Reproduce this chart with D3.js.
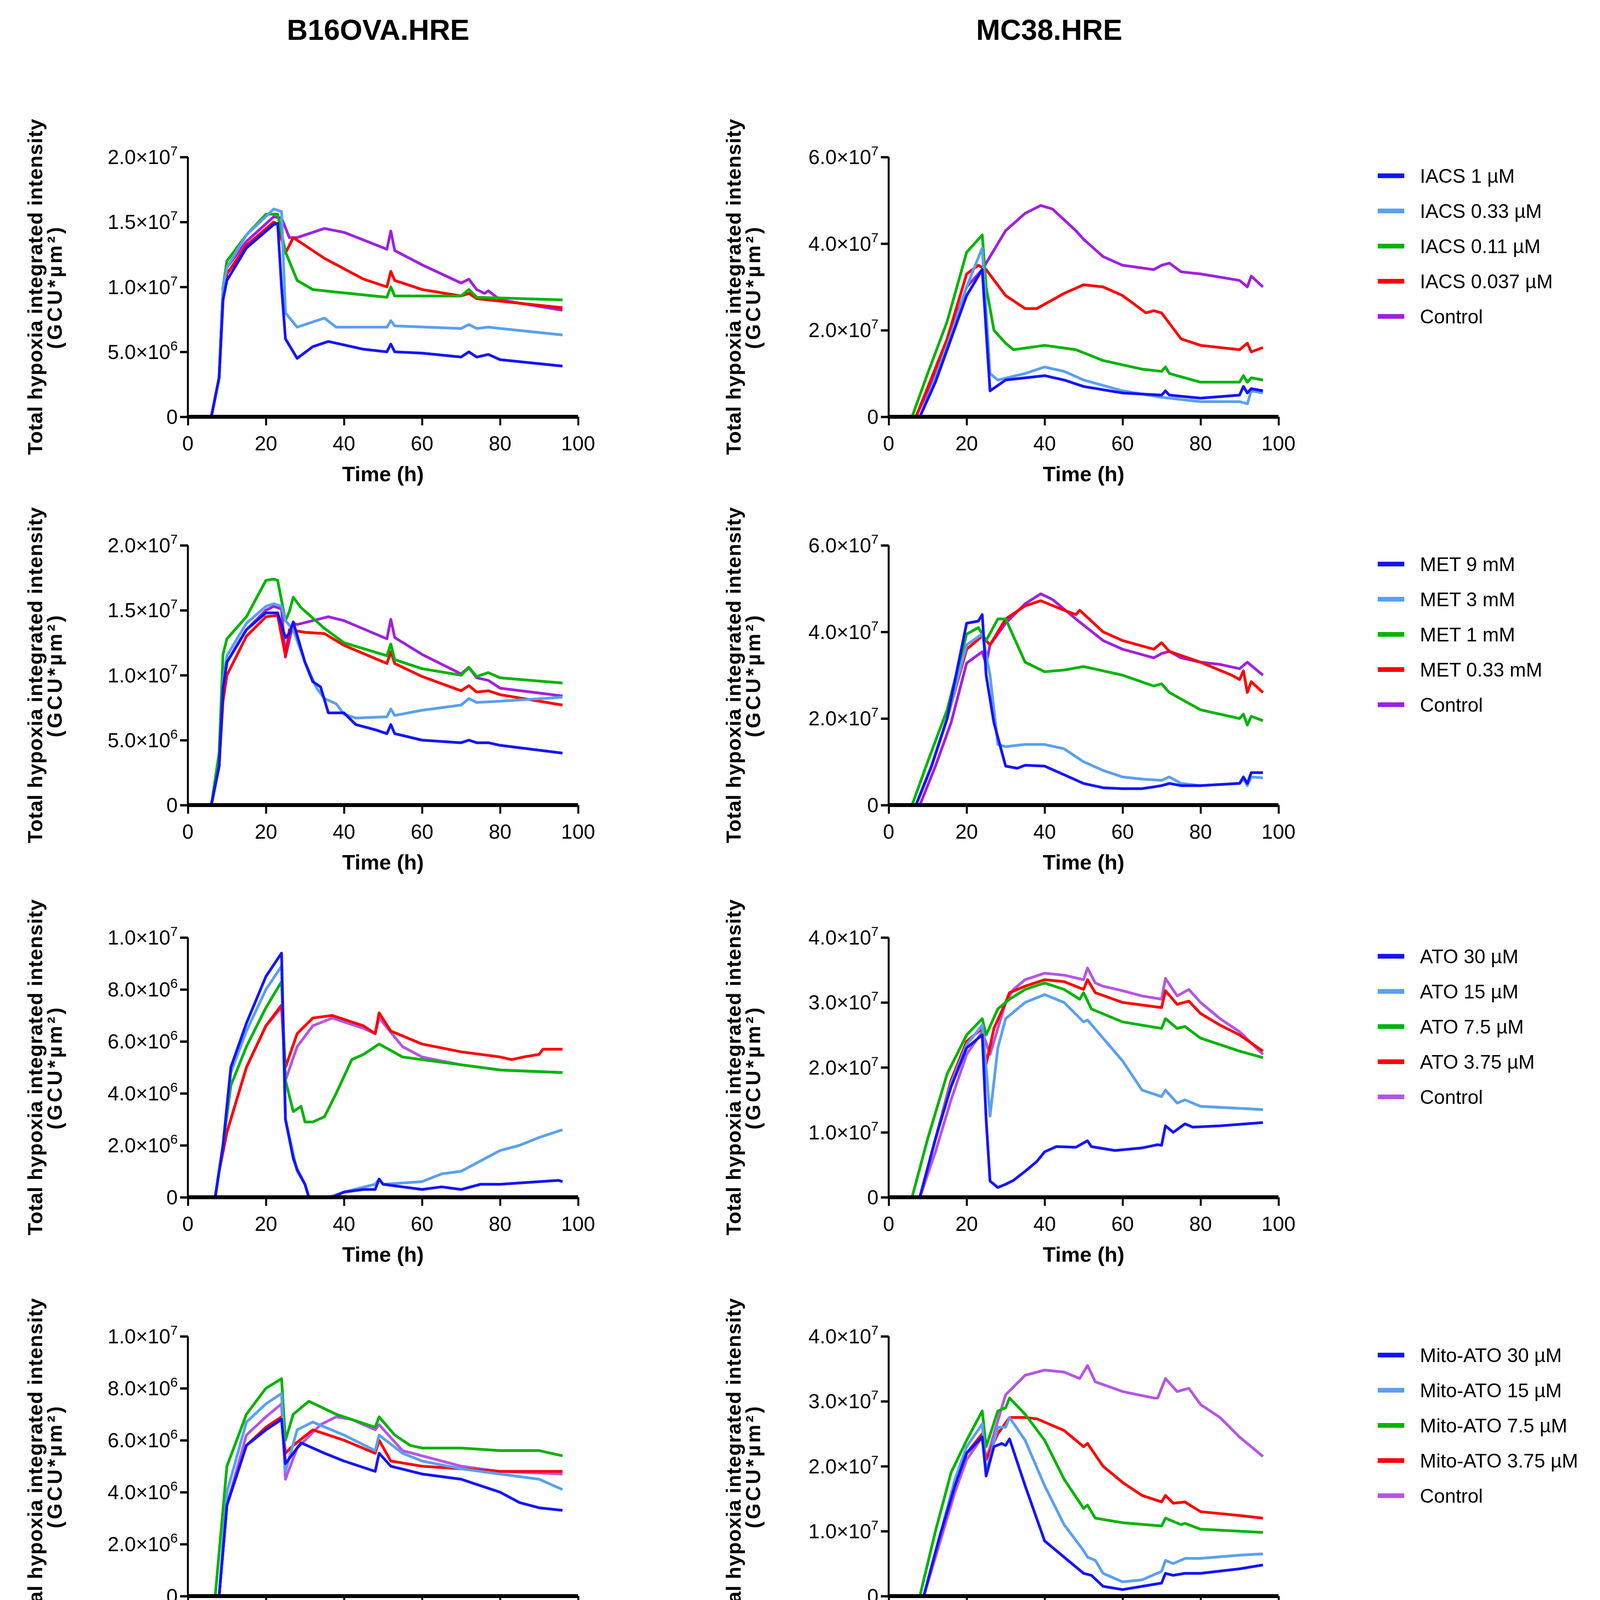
<!DOCTYPE html>
<html><head><meta charset="utf-8">
<script src="https://cdn.jsdelivr.net/npm/d3@7"></script>
<style>body{margin:0;background:#fff}svg{display:block}text{font-family:"Liberation Sans",Arial,sans-serif}</style>
</head><body>
<script>
// values in units of 1e6 GCU*µm²
const columnTitles = ["B16OVA.HRE", "MC38.HRE"];
const xTicks = [0, 20, 40, 60, 80, 100];
const colors = ["#1414ff", "#5aa0f0", "#00b400", "#ff0000", "#a020e0"];
const controlColors = ["#a020e0", "#a020e0", "#b555e6", "#b555e6", "#b555e6", "#b555e6", "#a020e0"];
const legendLabels = [
  ["IACS 1 µM", "IACS 0.33 µM", "IACS 0.11 µM", "IACS 0.037 µM", "Control"],
  ["MET 9 mM", "MET 3 mM", "MET 1 mM", "MET 0.33 mM", "Control"],
  ["ATO 30 µM", "ATO 15 µM", "ATO 7.5 µM", "ATO 3.75 µM", "Control"],
  ["Mito-ATO 30 µM", "Mito-ATO 15 µM", "Mito-ATO 7.5 µM", "Mito-ATO 3.75 µM", "Control"],
  ["Mito-PEG-ATO 30 µM", "Mito-PEG-ATO 15 µM", "Mito-PEG-ATO 7.5 µM", "Mito-PEG-ATO 3.75 µM", "Control"],
  ["Tamoxifen 5 µM", "Tamoxifen 2.5 µM", "Tamoxifen 1.25 µM", "Tamoxifen 0.625 µM", "Control"],
  ["MitoTam 5 µM", "MitoTam 2.5 µM", "MitoTam 1.25 µM", "MitoTam 0.625 µM", "Control"]
];
const yMaxLeft = [20, 20, 10, 10, 10, 15, 15];
const yStepLeft = [5, 5, 2, 2, 2, 5, 5];
const yMaxRight = [60, 60, 40, 40, 40, 80, 80];
const yStepRight = [20, 20, 10, 10, 10, 20, 20];

const B16_IACS = [
 [[0,0],[6,0],[8,3],[9,9],[10,10.5],[15,13],[22,14.8],[23,14.9],[24,10],[25,6],[28,4.5],[32,5.4],[36,5.8],[45,5.2],[51,5.0],[52,5.6],[53,5.0],[60,4.9],[70,4.6],[72,5.0],[74,4.6],[77,4.8],[80,4.4],[96,3.9]],
 [[0,0],[6,0],[8,3],[9,10],[10,11.5],[15,14],[22,16.0],[24,15.8],[25,8],[28,6.9],[35,7.6],[38,6.9],[51,6.9],[52,7.4],[53,7.0],[70,6.8],[72,7.1],[74,6.8],[77,6.9],[96,6.3]],
 [[0,0],[6,0],[8,3],[9,10],[10,12],[15,14],[20,15.6],[23,15.6],[25,12.7],[28,10.5],[32,9.8],[38,9.6],[51,9.2],[52,10.0],[53,9.3],[70,9.3],[72,9.8],[74,9.2],[96,9.0]],
 [[0,0],[6,0],[8,3],[9,9],[10,11],[15,13.2],[22,15.0],[23,14.8],[25,12.6],[27,13.8],[35,12.2],[45,10.6],[51,10.0],[52,11.2],[53,10.5],[60,9.8],[70,9.3],[72,9.5],[74,9.1],[80,8.9],[96,8.4]],
 [[0,0],[6,0],[8,3],[9,9.5],[10,11.5],[15,13.5],[22,15.4],[24,15.3],[26,13.8],[28,13.8],[35,14.5],[40,14.2],[51,12.9],[52,14.3],[53,12.8],[60,11.7],[70,10.3],[72,10.6],[74,9.8],[76,9.5],[77,9.7],[80,9.0],[96,8.2]]
];
const MC38_IACS = [
 [[0,0],[8,0],[12,8],[16,18],[20,28],[24,34],[26,6],[30,8.5],[40,9.5],[45,8.5],[50,7],[60,5.5],[70,5.0],[71,6],[72,5],[80,4.3],[90,5],[91,7],[92,5.5],[93,6.5],[96,6]],
 [[0,0],[8,0],[12,9],[16,19],[20,30],[24,39],[26,10],[28,8.5],[35,10],[40,11.5],[45,10.5],[50,8.5],[60,6],[70,4.5],[80,3.5],[90,3.5],[92,3],[93,6],[96,5.5]],
 [[0,0],[6,0],[10,10],[15,22],[20,38],[24,42],[25,30],[27,20],[30,17],[32,15.5],[40,16.5],[48,15.5],[55,13],[65,11],[70,10.5],[71,11.5],[72,10],[80,8],[90,8],[91,9.5],[92,8],[93,9],[96,8.5]],
 [[0,0],[7,0],[11,9],[15,18],[20,33],[23,35],[25,34],[30,28],[35,25],[38,25],[45,28.5],[50,30.5],[55,30],[60,28],[66,24],[68,24.5],[70,24],[75,18],[80,16.5],[90,15.5],[92,17],[93,15],[96,16]],
 [[0,0],[7,0],[11,8],[15,17],[20,30],[24,34],[30,43],[35,47],[39,48.8],[42,48],[48,43],[50,41],[55,37],[60,35],[68,34],[70,35],[72,35.5],[75,33.5],[80,33],[90,31.5],[92,30],[93,32.5],[96,30]]
];
const B16_MET = [
 [[0,0],[6,0],[8,3],[9,9],[10,11],[15,13.5],[20,14.8],[23,14.8],[25,12.9],[26,13.2],[27,14.1],[30,11],[32,9.5],[34,9.1],[36,7.1],[40,7.1],[43,6.2],[48,5.8],[51,5.5],[52,6.2],[53,5.5],[60,5.0],[70,4.8],[72,5.0],[74,4.8],[77,4.8],[80,4.6],[96,4.0]],
 [[0,0],[6,0],[8,3],[9,9.5],[10,11.5],[15,14],[20,15.3],[22,15.5],[24,15.3],[25,14.2],[27,13.5],[30,11],[33,9],[35,8.2],[38,7.8],[40,7.0],[43,6.7],[51,6.8],[52,7.4],[53,6.9],[60,7.3],[70,7.7],[72,8.2],[74,7.9],[80,8.0],[96,8.3]],
 [[0,0],[6,0],[8,4],[9,11.6],[10,12.8],[15,14.5],[20,17.3],[22,17.4],[23,17.3],[25,14.2],[26,14.9],[27,16.0],[29,15.2],[35,13.6],[40,12.5],[51,11.5],[52,12.4],[53,11.2],[60,10.5],[70,10.0],[72,10.6],[74,9.9],[77,10.2],[80,9.8],[96,9.4]],
 [[0,0],[6,0],[8,3],[9,8],[10,10],[15,13],[20,14.5],[23,14.6],[25,11.5],[26,13.5],[30,13.3],[35,13.2],[40,12.3],[51,10.9],[52,11.8],[53,10.9],[60,9.9],[70,8.8],[72,9.2],[74,8.7],[77,8.8],[80,8.5],[96,7.7]],
 [[0,0],[6,0],[8,3],[9,9],[10,11],[15,13.5],[20,15],[22,15.3],[24,15.1],[25,11.4],[27,14.0],[28,13.9],[36,14.5],[40,14.2],[51,12.8],[52,14.3],[53,12.9],[60,11.6],[70,10.1],[72,10.6],[74,9.8],[77,9.6],[80,9.0],[96,8.4]]
];
const MC38_MET = [
 [[0,0],[7,0],[11,9],[15,20],[20,42],[23,42.5],[24,44],[25,30],[27,19],[30,9],[33,8.5],[35,9.2],[40,9],[45,7],[50,5],[55,4],[60,3.8],[65,3.8],[68,4.2],[70,4.5],[72,5],[75,4.5],[80,4.5],[90,5],[91,6.5],[92,5],[93,7.5],[96,7.5]],
 [[0,0],[7,0],[11,9],[15,20],[20,37],[24,39.5],[26,30],[28,14],[30,13.5],[35,14],[40,14],[45,13],[50,10],[55,8],[60,6.5],[65,6],[70,5.7],[72,6.5],[75,5],[80,4.5],[90,5],[91,6],[92,4.5],[93,6.5],[96,6.3]],
 [[0,0],[6,0],[10,10],[15,22],[20,39.5],[23,41],[25,38],[28,43],[30,43],[32,39],[35,33],[40,30.8],[45,31.2],[50,32],[55,31],[60,30],[68,27.5],[70,28],[72,26],[80,22],[90,20],[91,21],[92,18.5],[93,20.5],[96,19.5]],
 [[0,0],[7,0],[11,9],[15,20],[20,36],[24,39],[26,37],[30,43],[35,46],[39,47.2],[45,45],[48,44],[49,45],[55,40],[60,38],[68,36],[70,37.5],[72,35.5],[80,33],[88,30],[90,29],[91,31],[92,26],[93,28.5],[96,26]],
 [[0,0],[8,0],[12,9],[16,19],[20,32.8],[24,35.4],[25,32.5],[26,37],[30,42],[35,46.5],[39,48.8],[42,47.5],[48,43],[55,38],[60,36],[68,34],[70,35],[72,35.5],[75,34],[80,33],[85,32.5],[90,31.5],[92,33],[96,30]]
];
const B16_ATO = [
 [[0,0],[7,0],[9,2],[11,5],[15,6.7],[20,8.5],[24,9.4],[25,3.0],[27,1.5],[28,1.07],[30,0.5],[31,0],[37,0],[40,0.2],[45,0.3],[48,0.3],[49,0.7],[50,0.5],[55,0.4],[60,0.3],[65,0.4],[70,0.3],[75,0.5],[80,0.5],[90,0.6],[95,0.65],[96,0.6]],
 [[0,0],[7,0],[9,2],[11,4.8],[15,6.4],[20,8],[24,8.9],[25,3],[28,1],[30,0.5],[31,0],[36,0],[40,0.2],[48,0.5],[49,0.7],[50,0.5],[60,0.6],[65,0.9],[70,1.0],[75,1.4],[80,1.8],[85,2.0],[90,2.3],[96,2.6]],
 [[0,0],[7,0],[9,2],[11,4.3],[15,5.8],[20,7.3],[24,8.3],[25,4.5],[27,3.3],[29,3.5],[30,2.9],[32,2.9],[35,3.1],[38,4.0],[42,5.3],[45,5.5],[48,5.8],[49,5.9],[55,5.4],[60,5.3],[70,5.1],[80,4.9],[96,4.8]],
 [[0,0],[7,0],[8,1],[10,2.5],[15,5.0],[20,6.6],[24,7.4],[25,5.0],[28,6.3],[32,6.9],[37,7.0],[45,6.6],[48,6.3],[49,7.1],[52,6.4],[60,5.9],[70,5.6],[80,5.4],[83,5.3],[86,5.4],[90,5.5],[91,5.7],[96,5.7]],
 [[0,0],[7,0],[8,1],[10,2.5],[15,5.0],[20,6.6],[24,7.3],[25,4.5],[28,5.8],[32,6.6],[37,6.9],[45,6.5],[48,6.3],[49,6.9],[55,5.8],[60,5.4],[70,5.1],[80,4.9],[96,4.8]]
];
const MC38_ATO = [
 [[0,0],[8,0],[12,9],[16,17],[20,23],[24,25],[25,12],[26,2.5],[28,1.5],[30,2],[32,2.6],[35,4],[38,5.5],[40,7],[43,7.8],[48,7.7],[51,8.7],[52,7.8],[58,7.2],[65,7.6],[69,8.1],[70,8.0],[71,11],[73,10],[76,11.3],[78,10.8],[85,11],[96,11.5]],
 [[0,0],[8,0],[12,9],[16,17.5],[20,23.5],[24,26.5],[25,20],[26,12.5],[28,23],[30,27.5],[35,30],[40,31.2],[45,30],[50,27],[51,27.3],[55,24.5],[60,21],[65,16.5],[70,15.5],[71,16.5],[74,14.5],[76,15],[80,14],[96,13.5]],
 [[0,0],[6,0],[10,9],[15,19],[20,25],[24,27.5],[25,25],[28,29],[31,30.5],[35,32],[40,33],[45,32],[49,30.5],[50,31.5],[52,29],[60,27],[70,26],[71,27.5],[74,26],[76,26.3],[80,24.5],[90,22.5],[96,21.5]],
 [[0,0],[8,0],[12,9],[16,18],[20,24],[24,26],[25,20.5],[27,26],[30,30],[31,31.5],[35,32.5],[40,33.5],[45,33.2],[50,32],[51,33.5],[53,31.5],[60,30],[70,29.2],[71,31.8],[74,29.7],[77,30.2],[80,28.3],[85,26.5],[90,25],[96,22.5]],
 [[0,0],[8,0],[12,7],[16,15],[20,22],[24,25.5],[26,22],[30,30],[32,32],[35,33.5],[40,34.5],[45,34.2],[50,33.5],[51,35.3],[53,33],[55,32.5],[60,31.8],[65,31],[70,30.5],[71,33.7],[74,31],[77,32],[80,30],[85,27.5],[90,25.5],[96,22]]
];
const B16_MITOATO = [
 [[0,0],[8,0],[10,3.5],[15,5.8],[20,6.4],[24,6.8],[25,5.1],[29,5.9],[35,5.5],[40,5.2],[48,4.8],[49,5.5],[52,5.0],[60,4.7],[70,4.5],[80,4.0],[85,3.6],[90,3.4],[96,3.3]],
 [[0,0],[8,0],[10,4],[15,6.7],[20,7.4],[24,7.8],[25,4.8],[28,6.4],[32,6.7],[40,6.2],[48,5.6],[49,6.2],[55,5.5],[60,5.2],[70,4.9],[80,4.7],[90,4.5],[96,4.1]],
 [[0,0],[7,0],[10,5],[15,7],[20,8],[24,8.37],[25,6.0],[27,7.0],[31,7.5],[38,7.0],[48,6.5],[49,6.9],[53,6.2],[57,5.8],[60,5.7],[70,5.7],[80,5.6],[90,5.6],[96,5.4]],
 [[0,0],[8,0],[10,3.5],[15,5.8],[20,6.5],[24,6.9],[25,5.5],[27,5.8],[32,6.4],[40,6.0],[48,5.5],[49,6.0],[52,5.2],[60,5.0],[70,4.9],[80,4.8],[96,4.8]],
 [[0,0],[8,0],[10,3.5],[15,6.2],[20,6.9],[24,7.4],[25,4.5],[28,5.7],[34,6.6],[38,6.9],[42,6.8],[48,6.4],[49,6.6],[55,5.6],[60,5.4],[70,5.0],[80,4.8],[96,4.7]]
];
const MC38_MITOATO = [
 [[0,0],[9,0],[13,9],[17,17],[20,22],[24,24.5],[25,18.5],[27,23],[29,23.5],[30,23.2],[31,24.2],[35,17],[40,8.5],[45,6],[50,3.5],[52,3.2],[55,1.5],[60,1.0],[65,1.5],[70,2.0],[71,3.5],[73,3.2],[76,3.5],[80,3.5],[90,4.2],[96,4.8]],
 [[0,0],[9,0],[13,9],[17,18],[20,23],[24,26.5],[25,19],[28,26],[30,26],[31,27.5],[35,24],[40,17],[45,11],[50,7],[51,6],[53,5.5],[55,3.5],[60,2.2],[65,2.5],[70,3.8],[71,5.5],[73,5],[76,5.8],[80,5.8],[90,6.3],[96,6.5]],
 [[0,0],[8,0],[12,10],[16,19],[20,24],[24,28.5],[25,23],[28,28.5],[30,29],[31,30.5],[35,28],[40,24],[45,18],[50,13.5],[51,14],[53,12],[60,11.3],[70,10.8],[71,12],[75,11],[76,11.2],[80,10.3],[96,9.8]],
 [[0,0],[9,0],[13,9],[17,17],[20,22],[24,25],[25,21],[28,25],[31,27.5],[35,27.5],[38,27.3],[45,25.5],[50,23],[51,23.5],[55,20],[60,17.5],[65,15.5],[70,14.5],[71,15.5],[73,14.3],[76,14.5],[80,13],[90,12.4],[96,12]],
 [[0,0],[9,0],[13,8],[17,16],[20,21],[24,24.5],[25,21],[30,31],[35,34],[40,34.8],[45,34.5],[49,33.5],[51,35.5],[53,33],[60,31.5],[68,30.5],[69,30.5],[71,33.5],[74,31.5],[77,32],[80,29.5],[85,27.5],[90,24.5],[96,21.5]]
];
const B16_PEG = [
 [[0,0],[8,0],[10,3],[15,5.5],[20,6.5],[24,6.8],[26,5.3],[30,4.0],[33,3.1],[36,3.1],[38,2.9],[40,2.8],[43,2.3],[48,1.2],[49,1.3],[52,1.2],[58,1.1],[60,1.0],[62,0.9],[68,0.7],[70,0.65],[80,0.65],[96,0.6]],
 [[0,0],[8,0],[10,4],[15,6.5],[20,7.4],[24,7.8],[25,4.5],[28,6.2],[30,6.1],[33,5.5],[36,5.0],[40,4.9],[45,4.2],[48,3.4],[49,3.6],[52,2.5],[55,1.5],[58,0.8],[60,0.9],[62,1.0],[65,1.2],[70,1.5],[72,1.6],[75,1.5],[80,1.4],[85,1.1],[90,0.8],[96,0.7]],
 [[0,0],[8,0],[10,4],[15,6.3],[20,7.2],[24,7.5],[25,5.5],[27,6.0],[28,5.9],[30,5.6],[33,4.9],[37,4.8],[40,4.9],[45,5.0],[48,5.0],[49,5.4],[52,5.1],[56,4.6],[60,3.7],[65,2.2],[68,1.9],[70,1.7],[72,1.7],[75,1.8],[78,1.9],[80,1.8],[86,1.6],[90,1.7],[93,1.9],[96,1.9]],
 [[0,0],[8,0],[10,3],[15,5.5],[20,6.4],[24,6.8],[25,4.7],[27,5.3],[29,5.3],[33,4.8],[37,4.7],[42,4.8],[48,4.9],[49,5.3],[52,4.9],[56,4.9],[60,5.0],[65,5.2],[70,5.3],[75,5.4],[80,5.4],[85,5.3],[90,4.9],[96,4.5]],
 [[0,0],[8,0],[10,3],[15,5.8],[20,6.8],[24,7.3],[25,4.6],[28,5.8],[32,6.6],[36,6.9],[40,6.9],[45,6.5],[48,6.3],[49,6.8],[52,6.3],[58,5.6],[65,5.3],[70,5.1],[80,4.9],[90,4.8],[96,4.8]]
];
const MC38_PEG = [
 [[0,0],[8,0],[12,10],[16,19],[20,26],[24,29],[25,22.5],[26,24],[27,23.5],[30,14],[33,7],[36,3],[40,0.5],[42,0],[82,0],[85,0.6],[90,2.0],[96,3.9]],
 [[0,0],[8,0],[12,9],[16,18],[20,25],[24,28],[25,23],[26,22],[27,20],[30,8.5],[33,6],[36,4],[40,2],[45,0.8],[50,0.2],[60,0.3],[65,0.6],[70,0.8],[72,1.3],[75,0.8],[80,0.6],[85,0.8],[90,1.8],[96,2.8]],
 [[0,0],[8,0],[12,9],[16,18],[20,24],[24,27],[25,22],[26,24.5],[27,25.2],[28,25],[30,20],[32,11],[35,8],[40,4.5],[45,2.5],[50,1.5],[51,1.3],[55,0.8],[60,0.6],[65,0.4],[69,0.6],[70,0.8],[71,3.2],[73,3],[76,4.3],[80,4.8],[85,5.5],[90,5.8],[96,6]],
 [[0,0],[8,0],[12,9],[16,18],[20,25],[24,30.6],[25,26],[27,29],[29,33],[31,36],[33,35.3],[38,34.8],[40,34.3],[45,32],[50,30.5],[51,31],[53,29],[60,25],[65,22.5],[70,21],[71,22.5],[73,21],[75,20.5],[76,20.7],[80,18],[85,16.5],[90,15.8],[93,15.5],[96,15]],
 [[0,0],[8,0],[12,6],[16,12],[20,18],[24,22],[25,20.5],[26,23],[30,26.5],[31,29],[35,32.5],[40,34.2],[42,34.5],[48,33.5],[51,35.5],[53,33],[60,31.5],[68,30.5],[69,30.2],[71,33.5],[74,31],[77,31.6],[80,29],[85,26],[90,23.5],[96,22]]
];
const B16_TAM = [
 [[0,0],[6,0],[8,6],[10,8],[15,9.8],[20,10.5],[22,10.8],[24,10.7],[25,8.7],[28,9.0],[30,9.1],[40,8.0],[50,6.8],[60,5.9],[70,5.7],[80,5.8],[96,6.1]],
 [[0,0],[6,0],[8,6],[10,8],[15,9.8],[20,10.6],[22,10.9],[24,10.8],[25,8.3],[28,8.9],[30,9.0],[40,8.0],[50,6.8],[60,5.9],[70,5.7],[80,5.7],[96,5.9]],
 [[0,0],[6,0],[8,6.5],[10,8.5],[15,10],[20,10.9],[22,11.2],[24,11.1],[25,8.9],[28,9.2],[30,9.3],[35,8.9],[40,8.2],[50,7.1],[60,6.3],[70,6.0],[80,5.9],[90,5.9],[96,6.0]],
 [[0,0],[6,0],[8,6],[10,8],[15,9.2],[20,9.9],[22,10.15],[24,10.0],[25,7.6],[28,8.2],[32,8.6],[38,8.4],[40,8.2],[42,8.5],[50,8.0],[60,7.5],[70,7.0],[80,6.7],[90,6.6],[96,6.5]],
 [[0,0],[6,0],[8,9.0],[10,10.0],[15,11.3],[20,12.6],[22,12.9],[23,12.9],[24,12.8],[25,10.3],[26,10.7],[30,10.8],[33,10.6],[40,9.5],[50,8.1],[60,6.8],[70,6.2],[75,6.0],[80,5.8],[90,5.8],[96,5.8]]
];
const MC38_TAM = [
 [[0,0],[7,0],[10,12],[15,32],[20,47],[24,54],[25,49],[27,54],[30,53],[35,47.5],[40,40.5],[50,31],[60,27],[70,25],[80,23],[96,20]],
 [[0,0],[6,0],[10,14],[15,34],[20,50],[24,58],[25,52],[27,56],[30,53],[40,39],[50,30],[60,26],[70,24],[80,22],[96,19]],
 [[0,0],[6,0],[10,14],[15,34],[20,50],[24,57],[25,54],[27,57],[30,55],[35,48],[40,40],[45,34],[50,30],[60,26.5],[70,24.5],[80,22.5],[90,20.5],[96,19.5]],
 [[0,0],[6,0],[10,14],[15,34],[20,49],[24,55],[25,53],[27,55],[30,52],[35,46],[40,38],[50,30],[60,26.5],[70,24.5],[80,22.5],[96,19.5]],
 [[0,0],[5,0],[7,1],[10,15],[15,35],[20,50],[24,61.4],[25,57],[26,64],[28,66],[30,66.5],[32,65.5],[35,60],[40,52],[45,44],[50,36],[52,32],[55,27],[60,25],[70,22.5],[80,21.5],[90,20.5],[96,20]]
];
const B16_MITOTAM = [
 [[0,0],[6,0],[8,6],[10,8.5],[15,10.5],[20,12.3],[24,13.5],[26,13.0],[28,13.4],[30,12.6],[35,10.8],[40,9.3],[45,8.3],[50,6.0],[55,4.4],[60,3.4],[65,2.5],[70,2.2],[72,2.15],[75,2.2],[80,2.4],[85,2.3],[90,2.3],[96,2.2]],
 [[0,0],[6,0],[8,6],[10,8.5],[15,10.6],[20,12.5],[24,13.8],[26,13.2],[28,13.6],[30,13.1],[35,11.4],[40,10.1],[45,9.1],[50,8.4],[60,7.4],[70,6.0],[80,4.8],[85,3.9],[90,2.9],[93,2.4],[96,2.3]],
 [[0,0],[6,0],[8,6],[10,8.4],[15,10.5],[20,12.3],[24,13.4],[26,12.9],[28,13.4],[30,12.9],[35,11.5],[40,10.5],[45,9.6],[50,8.6],[60,7.8],[70,7.4],[80,6.8],[90,6.3],[96,5.9]],
 [[0,0],[6,0],[8,6.5],[10,8.3],[15,10.4],[20,12.2],[24,13.4],[25,12.9],[28,13.3],[30,13.0],[35,11.8],[40,10.9],[45,9.9],[50,8.8],[55,8.0],[60,7.7],[70,7.4],[80,7.2],[96,7.2]],
 [[0,0],[6,0],[8,6],[10,8.3],[15,10.4],[20,12.0],[24,12.7],[25,10.6],[26,11.3],[27,11.2],[28,11.9],[32,12.2],[35,11.8],[40,11.3],[45,10.8],[50,9.8],[60,8.6],[70,7.9],[80,7.5],[96,7.2]]
];
const MC38_MITOTAM = [
 [[0,0],[10,0],[12,5],[16,14],[20,22],[24,31],[25,29],[28,38],[29,40.5],[30,40.2],[32,37],[35,25],[38,10],[40,6],[43,4.5],[45,4.5],[50,4.6],[60,4.8],[65,4.8],[70,5.2],[75,5.4],[80,6.0],[90,6.1],[96,6.0]],
 [[0,0],[9,0],[12,5],[16,14],[20,22],[24,31],[25,28],[28,40],[30,42.3],[32,41],[35,33],[38,22],[40,18],[43,16],[45,15],[50,14.8],[60,14.6],[70,14.3],[77,14.5],[80,14.1],[90,13.7],[96,13.4]],
 [[0,0],[8,0],[12,6],[16,14],[20,22],[24,30],[25,27],[28,35],[30,40],[35,43.8],[37,43.5],[40,41],[45,34],[50,30],[51,31],[53,28],[60,26.5],[65,26],[70,24.7],[76,24.2],[80,23.2],[90,22],[96,21]],
 [[0,0],[8,0],[12,8],[16,16],[20,24],[24,31],[25,30],[28,38],[30,42],[35,47.5],[40,50.3],[42,50],[50,46.3],[51,46.5],[55,42.5],[60,38],[70,33.3],[76,30.9],[77,30.6],[80,29.3],[90,26.1],[96,24.7]],
 [[0,0],[5,0],[8,2],[12,12],[15,18],[20,28],[24,39.6],[25,35],[26,41],[30,50],[35,57],[40,59.8],[42,59.5],[50,54.8],[51,54.5],[55,50],[60,46.8],[70,41.2],[76,38.8],[77,38.2],[80,37],[90,33.5],[96,31.3]]
];
const leftPanels = [B16_IACS, B16_MET, B16_ATO, B16_MITOATO, B16_PEG, B16_TAM, B16_MITOTAM];
const rightPanels = [MC38_IACS, MC38_MET, MC38_ATO, MC38_MITOATO, MC38_PEG, MC38_TAM, MC38_MITOTAM];

const W = 4232, H = 7332;
const svg = d3.select("body").append("svg").attr("width", W).attr("height", H);
const rowZero = [1067, 2061, 3065, 4086, 5101, 6105, 7108];
const plotH = 665;
const colX = [[481, 1480], [2275, 3273]];
const labelX = [[90, 140], [1878, 1928]];

svg.selectAll("text.title").data(columnTitles).join("text")
  .attr("x", (d, i) => [968, 2686][i]).attr("y", 102).attr("text-anchor", "middle")
  .attr("font-size", 74).attr("font-weight", "bold").text(d => d);

function fmt(v) { return v; }

function drawPanel(row, col, series, yMax, yStep) {
  const [x0, x1] = colX[col];
  const yb = rowZero[row], yt = yb - plotH;
  const x = d3.scaleLinear().domain([0, 100]).range([x0, x1]);
  const y = d3.scaleLinear().domain([0, yMax * 1e6]).range([yb, yt]);
  const g = svg.append("g");
  const line = d3.line().x(d => x(d[0])).y(d => y(d[1] * 1e6));
  const order = [4, 3, 2, 1, 0];
  order.forEach(i => {
    g.append("path").datum(series[i]).attr("d", line).attr("fill", "none")
      .attr("stroke", i === 4 ? controlColors[row] : colors[i]).attr("stroke-width", 7)
      .attr("stroke-linejoin", "round");
  });
  // y axis
  const yticks = d3.range(0, yMax + 1e-9, yStep).map(v => v * 1e6);
  const ya = g.append("g").attr("transform", `translate(${x0},0)`)
    .call(d3.axisLeft(y).tickValues(yticks).tickSize(20).tickFormat(""));
  ya.select(".domain").attr("stroke-width", 5).attr("d", `M0,${yb}V${yt}`);
  ya.selectAll(".tick line").attr("stroke-width", 6);
  yticks.forEach(v => {
    const t = g.append("text").attr("x", x0 - 26).attr("y", y(v) + 18)
      .attr("text-anchor", "end").attr("font-size", 52);
    if (v === 0) { t.text("0"); return; }
    const e = Math.floor(Math.log10(v));
    t.append("tspan").text((v / Math.pow(10, e)).toFixed(1) + "×10");
    t.append("tspan").attr("font-size", 34).attr("dy", -22).text(e);
  });
  // x axis
  const xa = g.append("g").attr("transform", `translate(0,${yb})`)
    .call(d3.axisBottom(x).tickValues(xTicks).tickSize(22).tickFormat(""));
  xa.select(".domain").attr("stroke-width", 10).attr("d", `M${x0},0H${x1}`);
  xa.selectAll(".tick line").attr("stroke-width", 5);
  xTicks.forEach(v => g.append("text").attr("x", x(v)).attr("y", yb + 86)
    .attr("text-anchor", "middle").attr("font-size", 52).text(v));
  g.append("text").attr("x", (x0 + x1) / 2).attr("y", yb + 165).attr("text-anchor", "middle")
    .attr("font-size", 54).attr("font-weight", "bold").text("Time (h)");
  // y label
  const cy = (yb + yt) / 2;
  g.append("text").attr("transform", `translate(${labelX[col][0] + 18},${cy}) rotate(-90)`)
    .attr("text-anchor", "middle").attr("font-size", 52).attr("font-weight", "bold")
    .attr("textLength", 860).attr("lengthAdjust", "spacing").text("Total hypoxia integrated intensity");
  g.append("text").attr("transform", `translate(${labelX[col][1] + 18},${cy}) rotate(-90)`)
    .attr("text-anchor", "middle").attr("font-size", 52).attr("font-weight", "bold")
    .attr("letter-spacing", 6).text("(GCU*µm²)");
  return yt;
}

for (let r = 0; r < 7; r++) {
  drawPanel(r, 0, leftPanels[r], yMaxLeft[r], yStepLeft[r]);
  const yt = drawPanel(r, 1, rightPanels[r], yMaxRight[r], yStepRight[r]);
  const lg = svg.append("g");
  legendLabels[r].forEach((lab, i) => {
    const ly = yt + 48 + i * 90;
    lg.append("line").attr("x1", 3527).attr("x2", 3595).attr("y1", ly).attr("y2", ly)
      .attr("stroke", i === 4 ? controlColors[r] : colors[i]).attr("stroke-width", 12);
    lg.append("text").attr("x", 3635).attr("y", ly + 18).attr("font-size", 50).text(lab);
  });
}
</script>
</body></html>
